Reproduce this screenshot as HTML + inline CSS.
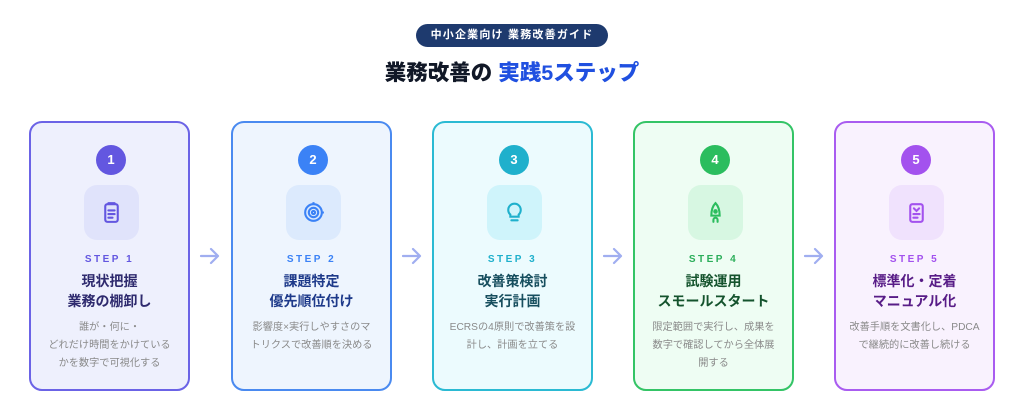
<!DOCTYPE html>
<html><head><meta charset="utf-8"><style>
*{margin:0;padding:0;box-sizing:border-box}
body{width:1024px;height:417px;background:#fff;position:relative;overflow:hidden;font-family:"Liberation Sans","Noto Sans CJK JP",sans-serif}
.badge{position:absolute;left:416px;top:24px;width:192px;height:23px;border-radius:12px;background:#1e3a6e;color:#fff;font-size:11px;font-weight:bold;text-align:center;line-height:23px;letter-spacing:1.2px}
.title{position:absolute;left:0;width:1024px;top:59px;text-align:center;font-size:21.5px;font-weight:900;color:#111827;line-height:28px}
.title span{color:#2050e0}
.card{position:absolute;top:121px;width:161px;height:270px;border:2px solid;border-radius:13px}
.num{position:absolute;left:65px;top:22px;width:30px;height:30px;border-radius:50%;color:#fff;font-weight:bold;font-size:13px;text-align:center;line-height:30px}
.ic{position:absolute;left:53px;top:62px;width:55px;height:55px;border-radius:13px}
.ic svg{position:absolute;left:15px;top:15px}
.step{position:absolute;left:0;width:100%;top:130px;text-align:center;font-size:10px;font-weight:bold;letter-spacing:2.5px;line-height:14px}
.t{position:absolute;left:0;width:100%;top:148px;text-align:center;font-size:14px;font-weight:bold;line-height:20px}
.d{position:absolute;left:4px;right:4px;top:196px;text-align:center;font-size:10.2px;color:#8a8a8a;line-height:18px}
.arr{position:absolute;top:247px}
</style></head><body>
<div class="badge">中小企業向け 業務改善ガイド</div>
<div class="title">業務改善の <span>実践5ステップ</span></div>

<div class="card" style="left:29px;border-color:#6b63e6;background:#eef0fd">
<div class="num" style="background:#6357e0">1</div>
<div class="ic" style="background:#e0e3fb"><svg width="25" height="25" viewBox="0 0 24 24" fill="none" stroke="#6357e0" stroke-width="2" stroke-linecap="round"><rect x="6" y="4" width="12" height="17" rx="2"/><path d="M9 3h6M9 10h6M9 13.5h6M9 17h4"/></svg></div>
<div class="step" style="color:#6357e0">STEP 1</div>
<div class="t" style="color:#2e2a6e">現状把握<br>業務の棚卸し</div>
<div class="d">誰が・何に・<br>どれだけ時間をかけている<br>かを数字で可視化する</div>
</div>

<div class="card" style="left:231px;border-color:#4a8af0;background:#eef5fe">
<div class="num" style="background:#3b82f6">2</div>
<div class="ic" style="background:#dceafd"><svg width="25" height="25" viewBox="0 0 24 24" fill="none" stroke="#3b82f6" stroke-width="2"><circle cx="12" cy="12" r="8"/><circle cx="12" cy="12" r="4.5"/><circle cx="12" cy="12" r="1.5"/><path d="M12 2v2M20 12h2"/></svg></div>
<div class="step" style="color:#3b82f6">STEP 2</div>
<div class="t" style="color:#1e3a8a">課題特定<br>優先順位付け</div>
<div class="d">影響度×実行しやすさのマ<br>トリクスで改善順を決める</div>
</div>

<div class="card" style="left:432px;border-color:#2bbad3;background:#ecfbfe">
<div class="num" style="background:#1fb0cc">3</div>
<div class="ic" style="background:#cff4fb"><svg width="25" height="25" viewBox="0 0 24 24" fill="none" stroke="#1fb0cc" stroke-width="2" stroke-linecap="round"><path d="M8 14a6 6 0 1 1 8 0v2H8z"/><path d="M9 19.5h6"/></svg></div>
<div class="step" style="color:#1fb0cc">STEP 3</div>
<div class="t" style="color:#164e5e">改善策検討<br>実行計画</div>
<div class="d">ECRSの4原則で改善策を設<br>計し、計画を立てる</div>
</div>

<div class="card" style="left:633px;border-color:#34c466;background:#eefdf3">
<div class="num" style="background:#2bbd5e">4</div>
<div class="ic" style="background:#d7f7e2"><svg width="25" height="25" viewBox="0 0 24 24" fill="none" stroke="#2bbd5e" stroke-width="2" stroke-linecap="round"><path d="M12 3c3 3 4 7 4 12H8c0-5 1-9 4-12z"/><circle cx="12" cy="11" r="1.2" fill="#2bbd5e"/><path d="M10 21v-2a2 2 0 0 1 4 0v2"/></svg></div>
<div class="step" style="color:#2bae5a">STEP 4</div>
<div class="t" style="color:#14532d">試験運用<br>スモールスタート</div>
<div class="d">限定範囲で実行し、成果を<br>数字で確認してから全体展<br>開する</div>
</div>

<div class="card" style="left:834px;border-color:#a95cf0;background:#f9f2fe">
<div class="num" style="background:#a352ee">5</div>
<div class="ic" style="background:#f0e2fd"><svg width="25" height="25" viewBox="0 0 24 24" fill="none" stroke="#a352ee" stroke-width="2" stroke-linecap="round"><rect x="6" y="4" width="12" height="17" rx="2"/><path d="M9.5 8l2.5 2.5L14.5 8M9 13.5h6M9 17h4"/></svg></div>
<div class="step" style="color:#a352ee">STEP 5</div>
<div class="t" style="color:#581c87">標準化・定着<br>マニュアル化</div>
<div class="d">改善手順を文書化し、PDCA<br>で継続的に改善し続ける</div>
</div>

<svg class="arr" style="left:199px" width="22" height="18" viewBox="0 0 22 18" fill="none" stroke="#a0aef0" stroke-width="2.2" stroke-linecap="round" stroke-linejoin="round"><path d="M2 9h17M12 2l7 7-7 7"/></svg>
<svg class="arr" style="left:401px" width="22" height="18" viewBox="0 0 22 18" fill="none" stroke="#a0aef0" stroke-width="2.2" stroke-linecap="round" stroke-linejoin="round"><path d="M2 9h17M12 2l7 7-7 7"/></svg>
<svg class="arr" style="left:602px" width="22" height="18" viewBox="0 0 22 18" fill="none" stroke="#a0aef0" stroke-width="2.2" stroke-linecap="round" stroke-linejoin="round"><path d="M2 9h17M12 2l7 7-7 7"/></svg>
<svg class="arr" style="left:803px" width="22" height="18" viewBox="0 0 22 18" fill="none" stroke="#a0aef0" stroke-width="2.2" stroke-linecap="round" stroke-linejoin="round"><path d="M2 9h17M12 2l7 7-7 7"/></svg>
</body></html>
